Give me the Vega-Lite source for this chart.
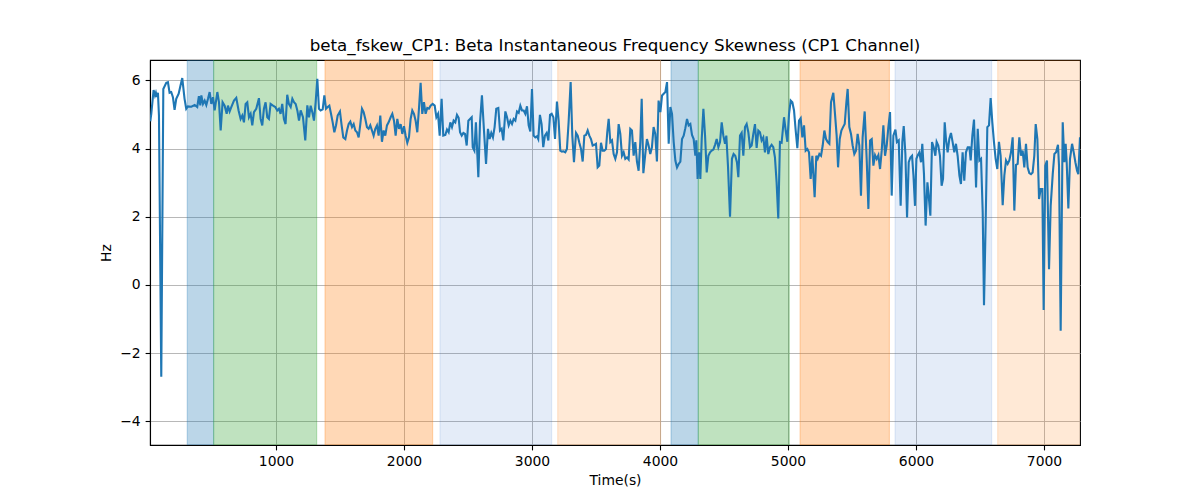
{
  "$schema": "https://vega.github.io/schema/vega-lite/v6.json",
  "description": "Beta instantaneous frequency skewness for the CP1 channel, with shaded phases.",
  "width": 930,
  "height": 385,
  "autosize": {"type": "none"},
  "padding": {"left": 150, "top": 60, "right": 120, "bottom": 55},
  "title": {
    "text": "beta_fskew_CP1: Beta Instantaneous Frequency Skewness (CP1 Channel)",
    "font": "DejaVu Sans",
    "fontSize": 16.7,
    "fontWeight": "normal",
    "color": "black",
    "offset": 5
  },
  "config": {
    "view": {"stroke": "black", "strokeWidth": 1.1},
    "axis": {
      "grid": true,
      "gridColor": "#b0b0b0",
      "gridWidth": 0.9,
      "domainColor": "black",
      "domainWidth": 1.1,
      "tickColor": "black",
      "tickWidth": 1.1,
      "tickSize": 4.9,
      "labelFont": "DejaVu Sans",
      "labelFontSize": 13.9,
      "labelColor": "black",
      "labelPadding": 4.9,
      "titleFont": "DejaVu Sans",
      "titleFontSize": 13.9,
      "titleFontWeight": "normal",
      "titleColor": "black",
      "zindex": 1
    }
  },
  "datasets": {
    "bands": [
      {"start": 307, "end": 513, "phase": "A"},
      {"start": 513, "end": 1318, "phase": "B"},
      {"start": 1383, "end": 2224, "phase": "C"},
      {"start": 2281, "end": 3154, "phase": "D"},
      {"start": 3201, "end": 4005, "phase": "E"},
      {"start": 4086, "end": 4299, "phase": "A"},
      {"start": 4299, "end": 5010, "phase": "B"},
      {"start": 5094, "end": 5792, "phase": "C"},
      {"start": 5836, "end": 6591, "phase": "D"},
      {"start": 6638, "end": 7300, "phase": "E"}
    ],
    "series": [
      {"t": 18, "v": 4.8}, {"t": 26, "v": 5.02}, {"t": 44, "v": 5.72}, {"t": 55, "v": 5.56}, {"t": 62, "v": 5.64},
      {"t": 70, "v": 5.51}, {"t": 78, "v": 5.64}, {"t": 86, "v": 4.97}, {"t": 104, "v": -2.7}, {"t": 120, "v": 5.75},
      {"t": 143, "v": 5.93}, {"t": 156, "v": 5.95}, {"t": 169, "v": 5.64}, {"t": 182, "v": 5.66}, {"t": 195, "v": 5.51},
      {"t": 208, "v": 5.14}, {"t": 221, "v": 5.46}, {"t": 240, "v": 5.61}, {"t": 253, "v": 5.83}, {"t": 268, "v": 6.07},
      {"t": 286, "v": 5.46}, {"t": 299, "v": 5.17}, {"t": 312, "v": 5.24}, {"t": 339, "v": 5.23}, {"t": 365, "v": 5.28},
      {"t": 385, "v": 5.22}, {"t": 398, "v": 5.54}, {"t": 409, "v": 5.27}, {"t": 417, "v": 5.56}, {"t": 430, "v": 5.31},
      {"t": 443, "v": 5.41}, {"t": 456, "v": 5.28}, {"t": 469, "v": 5.46}, {"t": 482, "v": 5.66}, {"t": 495, "v": 5.31},
      {"t": 508, "v": 5.51}, {"t": 521, "v": 5.12}, {"t": 542, "v": 5.66}, {"t": 555, "v": 5.36}, {"t": 568, "v": 4.53},
      {"t": 583, "v": 5.36}, {"t": 599, "v": 5.26}, {"t": 615, "v": 5.02}, {"t": 625, "v": 5.26}, {"t": 638, "v": 5.09},
      {"t": 651, "v": 5.22}, {"t": 672, "v": 5.41}, {"t": 690, "v": 5.49}, {"t": 708, "v": 5.12}, {"t": 724, "v": 4.87},
      {"t": 737, "v": 4.97}, {"t": 750, "v": 4.77}, {"t": 763, "v": 5.31}, {"t": 776, "v": 5.36}, {"t": 789, "v": 4.92},
      {"t": 802, "v": 5.02}, {"t": 815, "v": 4.68}, {"t": 828, "v": 5.07}, {"t": 846, "v": 5.17}, {"t": 867, "v": 5.48},
      {"t": 880, "v": 4.87}, {"t": 893, "v": 4.68}, {"t": 906, "v": 5.17}, {"t": 919, "v": 5.36}, {"t": 932, "v": 4.92},
      {"t": 945, "v": 4.87}, {"t": 958, "v": 5.31}, {"t": 977, "v": 5.26}, {"t": 995, "v": 5.22}, {"t": 1010, "v": 5.12},
      {"t": 1023, "v": 5.17}, {"t": 1036, "v": 5.02}, {"t": 1049, "v": 5.31}, {"t": 1062, "v": 4.87}, {"t": 1075, "v": 4.72},
      {"t": 1088, "v": 5.58}, {"t": 1101, "v": 5.31}, {"t": 1115, "v": 5.22}, {"t": 1128, "v": 5.46}, {"t": 1141, "v": 5.36},
      {"t": 1154, "v": 5.31}, {"t": 1167, "v": 5.12}, {"t": 1180, "v": 4.82}, {"t": 1193, "v": 5.12}, {"t": 1211, "v": 4.92},
      {"t": 1229, "v": 4.24}, {"t": 1245, "v": 5.27}, {"t": 1258, "v": 4.92}, {"t": 1271, "v": 5.26}, {"t": 1284, "v": 5.07},
      {"t": 1297, "v": 4.82}, {"t": 1310, "v": 5.36}, {"t": 1323, "v": 6.05}, {"t": 1336, "v": 5.17}, {"t": 1349, "v": 5.12},
      {"t": 1365, "v": 5.15}, {"t": 1378, "v": 5.56}, {"t": 1391, "v": 5.17}, {"t": 1404, "v": 5.22}, {"t": 1417, "v": 5.26},
      {"t": 1430, "v": 5.02}, {"t": 1443, "v": 4.77}, {"t": 1456, "v": 4.48}, {"t": 1469, "v": 4.68}, {"t": 1482, "v": 4.97},
      {"t": 1500, "v": 5.09}, {"t": 1513, "v": 4.68}, {"t": 1526, "v": 4.33}, {"t": 1542, "v": 4.28}, {"t": 1555, "v": 4.53},
      {"t": 1568, "v": 4.72}, {"t": 1581, "v": 4.79}, {"t": 1594, "v": 4.63}, {"t": 1607, "v": 4.72}, {"t": 1620, "v": 4.53},
      {"t": 1633, "v": 4.48}, {"t": 1646, "v": 4.33}, {"t": 1659, "v": 4.72}, {"t": 1672, "v": 5.17}, {"t": 1685, "v": 5.07},
      {"t": 1698, "v": 4.87}, {"t": 1711, "v": 4.63}, {"t": 1724, "v": 4.58}, {"t": 1737, "v": 4.68}, {"t": 1750, "v": 4.53},
      {"t": 1763, "v": 4.38}, {"t": 1776, "v": 4.58}, {"t": 1789, "v": 4.68}, {"t": 1802, "v": 4.38}, {"t": 1815, "v": 4.97},
      {"t": 1828, "v": 4.2}, {"t": 1841, "v": 4.53}, {"t": 1854, "v": 4.38}, {"t": 1867, "v": 4.68}, {"t": 1880, "v": 4.77},
      {"t": 1896, "v": 4.92}, {"t": 1909, "v": 5.02}, {"t": 1922, "v": 4.82}, {"t": 1935, "v": 4.38}, {"t": 1948, "v": 4.87},
      {"t": 1961, "v": 4.58}, {"t": 1974, "v": 4.72}, {"t": 1987, "v": 4.43}, {"t": 2000, "v": 4.66}, {"t": 2013, "v": 4.38},
      {"t": 2026, "v": 4.17}, {"t": 2039, "v": 4.33}, {"t": 2052, "v": 4.87}, {"t": 2065, "v": 5.12}, {"t": 2078, "v": 5.02},
      {"t": 2091, "v": 4.82}, {"t": 2104, "v": 4.48}, {"t": 2117, "v": 5.17}, {"t": 2130, "v": 5.93}, {"t": 2143, "v": 5.02},
      {"t": 2156, "v": 5.36}, {"t": 2169, "v": 5.02}, {"t": 2182, "v": 5.19}, {"t": 2195, "v": 5.17}, {"t": 2208, "v": 5.26},
      {"t": 2224, "v": 5.31}, {"t": 2240, "v": 5.26}, {"t": 2253, "v": 4.92}, {"t": 2266, "v": 5.02}, {"t": 2279, "v": 4.38},
      {"t": 2294, "v": 5.46}, {"t": 2307, "v": 4.38}, {"t": 2323, "v": 4.4}, {"t": 2336, "v": 4.56}, {"t": 2349, "v": 4.48},
      {"t": 2362, "v": 4.77}, {"t": 2375, "v": 4.63}, {"t": 2388, "v": 4.82}, {"t": 2401, "v": 4.77}, {"t": 2414, "v": 4.99},
      {"t": 2427, "v": 4.9}, {"t": 2438, "v": 4.48}, {"t": 2451, "v": 4.38}, {"t": 2464, "v": 4.46}, {"t": 2477, "v": 4.43},
      {"t": 2490, "v": 4.09}, {"t": 2503, "v": 4.82}, {"t": 2516, "v": 4.87}, {"t": 2529, "v": 4.92}, {"t": 2537, "v": 4.04},
      {"t": 2550, "v": 3.94}, {"t": 2562, "v": 4.77}, {"t": 2581, "v": 3.16}, {"t": 2594, "v": 4.77}, {"t": 2609, "v": 5.56},
      {"t": 2625, "v": 4.53}, {"t": 2641, "v": 3.55}, {"t": 2656, "v": 4.58}, {"t": 2669, "v": 4.28}, {"t": 2682, "v": 4.46},
      {"t": 2695, "v": 4.33}, {"t": 2708, "v": 4.63}, {"t": 2721, "v": 5.17}, {"t": 2737, "v": 5.19}, {"t": 2750, "v": 4.53},
      {"t": 2763, "v": 4.58}, {"t": 2776, "v": 4.24}, {"t": 2792, "v": 5.09}, {"t": 2805, "v": 4.92}, {"t": 2818, "v": 4.68},
      {"t": 2831, "v": 4.82}, {"t": 2844, "v": 4.72}, {"t": 2857, "v": 4.87}, {"t": 2870, "v": 4.82}, {"t": 2883, "v": 5.09},
      {"t": 2896, "v": 5.05}, {"t": 2909, "v": 5.26}, {"t": 2922, "v": 5.12}, {"t": 2935, "v": 5.12}, {"t": 2948, "v": 5.02},
      {"t": 2961, "v": 5.24}, {"t": 2974, "v": 4.68}, {"t": 2987, "v": 4.5}, {"t": 3000, "v": 5.75}, {"t": 3013, "v": 4.38},
      {"t": 3026, "v": 4.33}, {"t": 3039, "v": 4.36}, {"t": 3049, "v": 4.28}, {"t": 3062, "v": 4.99}, {"t": 3075, "v": 4.72},
      {"t": 3088, "v": 4.04}, {"t": 3101, "v": 4.38}, {"t": 3115, "v": 4.46}, {"t": 3128, "v": 4.24}, {"t": 3141, "v": 4.99},
      {"t": 3154, "v": 5.02}, {"t": 3167, "v": 4.92}, {"t": 3180, "v": 4.28}, {"t": 3195, "v": 5.38}, {"t": 3208, "v": 4.82},
      {"t": 3221, "v": 3.94}, {"t": 3234, "v": 3.91}, {"t": 3247, "v": 3.92}, {"t": 3260, "v": 3.89}, {"t": 3273, "v": 3.99},
      {"t": 3286, "v": 4.77}, {"t": 3302, "v": 5.95}, {"t": 3315, "v": 4.38}, {"t": 3328, "v": 3.6}, {"t": 3344, "v": 4.46},
      {"t": 3357, "v": 4.38}, {"t": 3370, "v": 4.17}, {"t": 3383, "v": 3.99}, {"t": 3396, "v": 3.62}, {"t": 3409, "v": 4.38},
      {"t": 3422, "v": 4.4}, {"t": 3435, "v": 4.53}, {"t": 3448, "v": 4.38}, {"t": 3461, "v": 4.28}, {"t": 3474, "v": 4.09},
      {"t": 3487, "v": 4.11}, {"t": 3500, "v": 4.14}, {"t": 3513, "v": 3.45}, {"t": 3526, "v": 3.5}, {"t": 3539, "v": 4.17},
      {"t": 3552, "v": 3.94}, {"t": 3565, "v": 3.94}, {"t": 3578, "v": 3.99}, {"t": 3588, "v": 4.48}, {"t": 3599, "v": 4.87},
      {"t": 3612, "v": 4.19}, {"t": 3625, "v": 4.24}, {"t": 3638, "v": 3.84}, {"t": 3651, "v": 3.7}, {"t": 3664, "v": 3.89},
      {"t": 3677, "v": 4.72}, {"t": 3690, "v": 4.43}, {"t": 3703, "v": 3.79}, {"t": 3716, "v": 3.89}, {"t": 3729, "v": 3.7},
      {"t": 3742, "v": 3.74}, {"t": 3755, "v": 3.68}, {"t": 3768, "v": 4.58}, {"t": 3781, "v": 4.53}, {"t": 3794, "v": 3.79},
      {"t": 3807, "v": 4.19}, {"t": 3820, "v": 3.62}, {"t": 3833, "v": 3.35}, {"t": 3846, "v": 4.19}, {"t": 3857, "v": 5.46},
      {"t": 3870, "v": 3.28}, {"t": 3885, "v": 3.84}, {"t": 3898, "v": 4.28}, {"t": 3911, "v": 4.09}, {"t": 3924, "v": 3.84},
      {"t": 3937, "v": 4.04}, {"t": 3950, "v": 4.63}, {"t": 3963, "v": 4.43}, {"t": 3976, "v": 3.62}, {"t": 3989, "v": 5.41},
      {"t": 4003, "v": 5.07}, {"t": 4016, "v": 5.56}, {"t": 4029, "v": 5.61}, {"t": 4042, "v": 5.66}, {"t": 4055, "v": 5.95},
      {"t": 4068, "v": 4.14}, {"t": 4081, "v": 5.22}, {"t": 4094, "v": 5.02}, {"t": 4107, "v": 4.19}, {"t": 4120, "v": 3.65},
      {"t": 4133, "v": 3.45}, {"t": 4146, "v": 3.55}, {"t": 4159, "v": 3.62}, {"t": 4172, "v": 4.28}, {"t": 4185, "v": 4.38},
      {"t": 4198, "v": 4.6}, {"t": 4211, "v": 4.87}, {"t": 4224, "v": 4.68}, {"t": 4237, "v": 4.72}, {"t": 4250, "v": 4.4},
      {"t": 4263, "v": 4.28}, {"t": 4276, "v": 3.79}, {"t": 4284, "v": 4.24}, {"t": 4294, "v": 3.11}, {"t": 4305, "v": 3.89},
      {"t": 4315, "v": 3.11}, {"t": 4326, "v": 4.28}, {"t": 4339, "v": 5.17}, {"t": 4352, "v": 4.38}, {"t": 4365, "v": 3.3},
      {"t": 4378, "v": 3.79}, {"t": 4391, "v": 3.89}, {"t": 4404, "v": 3.94}, {"t": 4417, "v": 3.97}, {"t": 4430, "v": 4.11},
      {"t": 4443, "v": 4.28}, {"t": 4456, "v": 4.04}, {"t": 4469, "v": 4.19}, {"t": 4482, "v": 4.77}, {"t": 4495, "v": 4.38},
      {"t": 4508, "v": 4.14}, {"t": 4518, "v": 4.38}, {"t": 4531, "v": 3.5}, {"t": 4547, "v": 2.0}, {"t": 4562, "v": 3.7},
      {"t": 4575, "v": 3.84}, {"t": 4588, "v": 3.79}, {"t": 4601, "v": 3.6}, {"t": 4612, "v": 3.16}, {"t": 4625, "v": 4.38},
      {"t": 4638, "v": 4.46}, {"t": 4651, "v": 3.79}, {"t": 4664, "v": 4.63}, {"t": 4677, "v": 4.72}, {"t": 4690, "v": 4.48},
      {"t": 4703, "v": 4.04}, {"t": 4716, "v": 4.09}, {"t": 4729, "v": 4.43}, {"t": 4742, "v": 4.72}, {"t": 4755, "v": 4.02},
      {"t": 4768, "v": 4.53}, {"t": 4781, "v": 4.48}, {"t": 4794, "v": 4.24}, {"t": 4807, "v": 4.33}, {"t": 4820, "v": 3.89},
      {"t": 4833, "v": 4.36}, {"t": 4846, "v": 3.84}, {"t": 4859, "v": 4.04}, {"t": 4872, "v": 4.11}, {"t": 4885, "v": 4.04},
      {"t": 4898, "v": 3.74}, {"t": 4911, "v": 3.01}, {"t": 4924, "v": 1.95}, {"t": 4937, "v": 4.19}, {"t": 4950, "v": 4.17},
      {"t": 4969, "v": 4.92}, {"t": 4982, "v": 4.53}, {"t": 4995, "v": 4.2}, {"t": 5008, "v": 5.02}, {"t": 5021, "v": 5.41},
      {"t": 5034, "v": 5.36}, {"t": 5047, "v": 5.12}, {"t": 5060, "v": 4.53}, {"t": 5073, "v": 4.01}, {"t": 5086, "v": 4.82},
      {"t": 5099, "v": 4.89}, {"t": 5112, "v": 4.33}, {"t": 5125, "v": 4.68}, {"t": 5138, "v": 3.94}, {"t": 5151, "v": 3.99},
      {"t": 5164, "v": 3.89}, {"t": 5177, "v": 3.11}, {"t": 5190, "v": 3.79}, {"t": 5208, "v": 2.57}, {"t": 5221, "v": 3.79},
      {"t": 5232, "v": 3.7}, {"t": 5245, "v": 3.84}, {"t": 5258, "v": 3.79}, {"t": 5271, "v": 4.09}, {"t": 5284, "v": 4.53},
      {"t": 5297, "v": 4.28}, {"t": 5310, "v": 4.19}, {"t": 5323, "v": 4.14}, {"t": 5336, "v": 5.36}, {"t": 5354, "v": 5.64},
      {"t": 5367, "v": 5.02}, {"t": 5380, "v": 4.38}, {"t": 5391, "v": 3.45}, {"t": 5404, "v": 4.28}, {"t": 5417, "v": 4.53},
      {"t": 5430, "v": 4.63}, {"t": 5443, "v": 4.72}, {"t": 5456, "v": 5.36}, {"t": 5466, "v": 5.75}, {"t": 5479, "v": 4.63},
      {"t": 5492, "v": 4.43}, {"t": 5505, "v": 4.09}, {"t": 5518, "v": 3.84}, {"t": 5531, "v": 3.94}, {"t": 5544, "v": 4.43},
      {"t": 5557, "v": 4.09}, {"t": 5570, "v": 2.62}, {"t": 5583, "v": 4.33}, {"t": 5599, "v": 5.09}, {"t": 5615, "v": 3.65},
      {"t": 5628, "v": 2.23}, {"t": 5641, "v": 4.24}, {"t": 5654, "v": 4.28}, {"t": 5667, "v": 3.5}, {"t": 5680, "v": 3.81},
      {"t": 5693, "v": 3.7}, {"t": 5706, "v": 3.81}, {"t": 5719, "v": 3.4}, {"t": 5732, "v": 3.94}, {"t": 5745, "v": 4.68},
      {"t": 5758, "v": 3.79}, {"t": 5771, "v": 4.09}, {"t": 5784, "v": 4.63}, {"t": 5797, "v": 5.07}, {"t": 5810, "v": 2.62},
      {"t": 5823, "v": 4.38}, {"t": 5839, "v": 4.56}, {"t": 5851, "v": 4.19}, {"t": 5865, "v": 4.24}, {"t": 5880, "v": 2.32},
      {"t": 5893, "v": 4.19}, {"t": 5904, "v": 4.66}, {"t": 5917, "v": 3.84}, {"t": 5930, "v": 1.98}, {"t": 5943, "v": 3.6},
      {"t": 5956, "v": 3.74}, {"t": 5969, "v": 3.79}, {"t": 5980, "v": 3.21}, {"t": 5992, "v": 2.32}, {"t": 6003, "v": 3.7},
      {"t": 6013, "v": 3.8}, {"t": 6026, "v": 3.89}, {"t": 6039, "v": 3.6}, {"t": 6049, "v": 4.14}, {"t": 6062, "v": 3.26},
      {"t": 6075, "v": 1.74}, {"t": 6089, "v": 3.01}, {"t": 6099, "v": 2.62}, {"t": 6112, "v": 2.03}, {"t": 6125, "v": 4.19},
      {"t": 6138, "v": 4.04}, {"t": 6151, "v": 3.79}, {"t": 6161, "v": 4.2}, {"t": 6174, "v": 4.09}, {"t": 6187, "v": 3.79},
      {"t": 6200, "v": 2.91}, {"t": 6211, "v": 3.11}, {"t": 6224, "v": 4.77}, {"t": 6234, "v": 4.28}, {"t": 6247, "v": 3.89},
      {"t": 6260, "v": 4.28}, {"t": 6273, "v": 4.46}, {"t": 6286, "v": 4.19}, {"t": 6299, "v": 3.89}, {"t": 6312, "v": 4.14},
      {"t": 6325, "v": 3.79}, {"t": 6339, "v": 3.21}, {"t": 6351, "v": 2.96}, {"t": 6364, "v": 3.89}, {"t": 6377, "v": 3.06},
      {"t": 6390, "v": 3.89}, {"t": 6404, "v": 4.04}, {"t": 6417, "v": 4.04}, {"t": 6427, "v": 3.65}, {"t": 6440, "v": 4.38},
      {"t": 6453, "v": 4.85}, {"t": 6469, "v": 2.86}, {"t": 6482, "v": 4.58}, {"t": 6495, "v": 3.65}, {"t": 6508, "v": 3.7},
      {"t": 6521, "v": 2.13}, {"t": 6531, "v": -0.6}, {"t": 6544, "v": 1.83}, {"t": 6557, "v": 4.63}, {"t": 6570, "v": 4.68},
      {"t": 6583, "v": 5.48}, {"t": 6596, "v": 4.77}, {"t": 6609, "v": 4.19}, {"t": 6622, "v": 3.7}, {"t": 6635, "v": 3.4},
      {"t": 6648, "v": 4.2}, {"t": 6661, "v": 3.79}, {"t": 6677, "v": 2.34}, {"t": 6690, "v": 3.21}, {"t": 6703, "v": 3.65},
      {"t": 6716, "v": 3.55}, {"t": 6729, "v": 3.65}, {"t": 6742, "v": 3.89}, {"t": 6755, "v": 4.33}, {"t": 6768, "v": 2.18},
      {"t": 6781, "v": 3.52}, {"t": 6794, "v": 3.55}, {"t": 6807, "v": 4.33}, {"t": 6820, "v": 3.79}, {"t": 6833, "v": 3.94},
      {"t": 6846, "v": 3.45}, {"t": 6859, "v": 4.14}, {"t": 6872, "v": 3.45}, {"t": 6885, "v": 3.28}, {"t": 6898, "v": 3.25},
      {"t": 6911, "v": 3.3}, {"t": 6924, "v": 3.79}, {"t": 6935, "v": 4.72}, {"t": 6948, "v": 4.28}, {"t": 6961, "v": 2.52},
      {"t": 6974, "v": 2.81}, {"t": 6987, "v": 2.81}, {"t": 6997, "v": -0.74}, {"t": 7010, "v": 3.5}, {"t": 7023, "v": 3.65},
      {"t": 7039, "v": 0.46}, {"t": 7052, "v": 2.32}, {"t": 7068, "v": 3.25}, {"t": 7081, "v": 3.84}, {"t": 7094, "v": 3.89},
      {"t": 7109, "v": 4.11}, {"t": 7117, "v": 3.5}, {"t": 7130, "v": -1.35}, {"t": 7146, "v": 4.77}, {"t": 7159, "v": 3.6},
      {"t": 7169, "v": 4.14}, {"t": 7177, "v": 3.6}, {"t": 7190, "v": 2.24}, {"t": 7203, "v": 3.7}, {"t": 7219, "v": 4.14},
      {"t": 7232, "v": 3.89}, {"t": 7245, "v": 3.6}, {"t": 7258, "v": 3.35}, {"t": 7268, "v": 3.25}, {"t": 7281, "v": 4.33}
    ]
  },
  "layer": [
    {
      "data": {"name": "bands"},
      "mark": {"type": "rect", "strokeWidth": 1.1, "clip": true},
      "encoding": {
        "x": {
          "field": "start",
          "type": "quantitative",
          "scale": {"domain": [16, 7281], "nice": false, "zero": false}
        },
        "x2": {"field": "end"},
        "color": {
          "field": "phase",
          "type": "nominal",
          "scale": {
            "domain": ["A", "B", "C", "D", "E"],
            "range": ["rgba(31,119,180,0.3)", "rgba(44,160,44,0.3)", "rgba(255,127,14,0.3)", "rgba(31,100,200,0.12)", "rgba(255,127,14,0.17)"]
          },
          "legend": null
        },
        "stroke": {
          "field": "phase",
          "type": "nominal",
          "scale": {
            "domain": ["A", "B", "C", "D", "E"],
            "range": ["rgba(31,119,180,0.3)", "rgba(44,160,44,0.3)", "rgba(255,127,14,0.3)", "rgba(31,100,200,0.12)", "rgba(255,127,14,0.17)"]
          },
          "legend": null
        }
      }
    },
    {
      "data": {"name": "series"},
      "mark": {"type": "line", "color": "#1f77b4", "strokeWidth": 2.1, "clip": true},
      "encoding": {
        "x": {
          "field": "t",
          "type": "quantitative",
          "title": "Time(s)",
          "scale": {"domain": [16, 7281], "nice": false, "zero": false},
          "axis": {"values": [1000, 2000, 3000, 4000, 5000, 6000, 7000], "format": "d", "titlePadding": 5}
        },
        "y": {
          "field": "v",
          "type": "quantitative",
          "title": "Hz",
          "scale": {"domain": [-4.7, 6.6], "nice": false, "zero": false},
          "axis": {"values": [-4, -2, 0, 2, 4, 6], "titlePadding": 6}
        }
      }
    }
  ]
}
